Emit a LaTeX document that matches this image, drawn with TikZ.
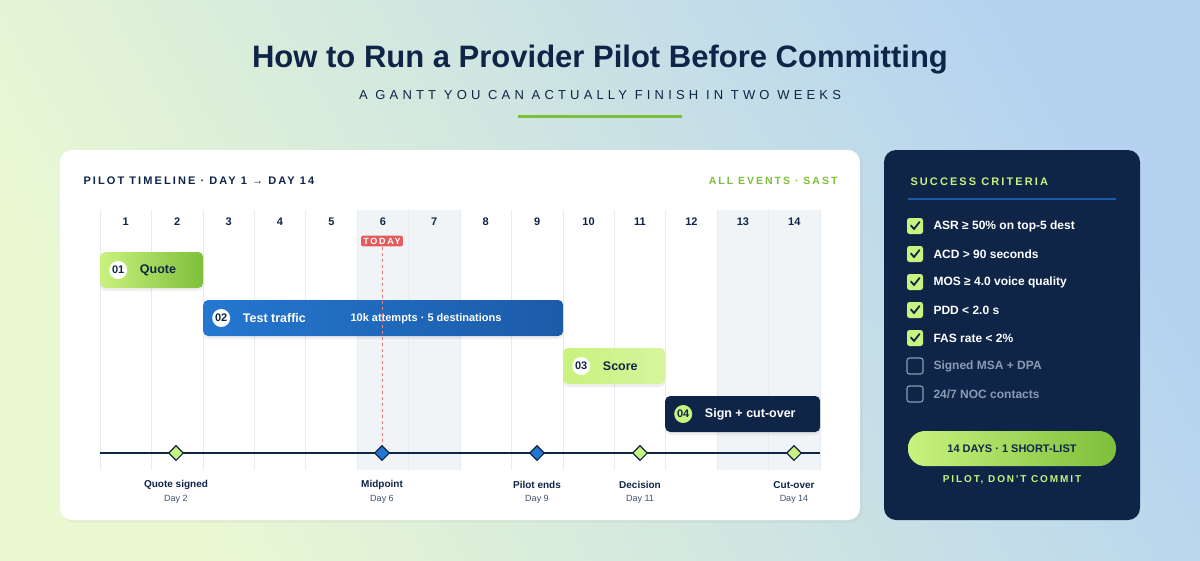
\documentclass[tikz,border=0pt]{standalone}
\usepackage{fontspec}
\setmainfont{Liberation Sans}
\newfontfamily\spaced[LetterSpace=32]{Liberation Sans}
\newfontfamily\spacedb[LetterSpace=19]{Liberation Sans}
\usetikzlibrary{positioning,shadows,shapes.geometric}
\definecolor{navy}{HTML}{0F2547}
\definecolor{lime}{HTML}{C9F27E}
\definecolor{limed}{HTML}{7DBF3A}
\definecolor{blu}{HTML}{2477D0}
\definecolor{blud}{HTML}{1C5BA8}
\definecolor{todayred}{HTML}{E45B5B}
\definecolor{gridc}{HTML}{E6EBEF}
\definecolor{shadec}{HTML}{F1F4F7}
\definecolor{muted}{HTML}{8A9AB3}
\definecolor{bgtl}{HTML}{EAF8D2}
\definecolor{bgbr}{HTML}{B5D3F0}
\newcommand{\fs}[1]{\fontsize{#1}{#1}\selectfont}
\tikzset{
  daynum/.style={font=\bfseries\fs{11}, text=navy},
  bar/.style={rounded corners=5pt, minimum height=36pt, anchor=west, inner sep=0pt, drop shadow={opacity=0.12, shadow xshift=0pt, shadow yshift=-3pt}},
  bartext/.style={font=\bfseries\fs{12.5}},
  badge/.style={circle, fill=white, minimum size=18pt, inner sep=0pt, font=\bfseries\fs{11}, text=navy},
  mile/.style={diamond, draw=navy, line width=1.1pt, minimum size=15pt, inner sep=0pt},
  milename/.style={font=\bfseries\fs{10}, text=navy},
  miledate/.style={font=\fs{9}, text=navy!80},
  crit/.style={font=\bfseries\fs{12}, text=white, anchor=west},
  box/.style={minimum size=16pt, rounded corners=2.5pt, inner sep=0pt},
}
\begin{document}
\begin{tikzpicture}[x=1pt,y=-1pt]
\useasboundingbox (0,0) rectangle (1200,560);
\shade[left color=bgtl, right color=bgbr, shading angle=120] (0,0) rectangle (1200,560);

% title
\node[font=\bfseries\fs{31}, text=navy] (title) at (600,60) {How to Run a Provider Pilot Before Committing};
\node[font=\spaced\fs{13}, text=navy] (subtitle) at (600,95) {A GANTT YOU CAN ACTUALLY FINISH IN TWO WEEKS};
\fill[limed] (518,114.5) rectangle (682,117.5);

% timeline card
\fill[white, rounded corners=12pt, drop shadow={opacity=0.08}] (60,150) rectangle (860,520);
\node[font=\spacedb\bfseries\fs{11}, text=navy, anchor=west] (cardtitle) at (80,181) {PILOT TIMELINE · DAY 1 → DAY 14};
\node[font=\spacedb\bfseries\fs{10.5}, text=limed, anchor=east] (cardtz) at (841,181) {ALL EVENTS · SAST};

\fill[shadec] (357.1,210) rectangle (460,470);
\fill[shadec] (717.1,210) rectangle (820,470);
\foreach \i in {0,...,14}
  \draw[gridc, line width=0.7pt] ({100+51.43*\i},210) -- ({100+51.43*\i},470);
\foreach \i in {1,...,14}
  \node[daynum] (d\i) at ({100+51.43*(\i-0.5)},222) {\i};

% today
\node[fill=todayred, rounded corners=2pt, text=white, font=\spacedb\bfseries\fs{9}, inner sep=2.2pt] (today) at (382,241) {TODAY};

% bars
\node[bar, minimum width=103pt, left color=lime, right color=limed] (b1) at (100,270) {};
\node[badge, right=9pt of b1.west] (n1) {01};
\node[bartext, text=navy, right=9pt of n1] (t1) {Quote};

\node[bar, minimum width=360pt, left color=blu, right color=blud] (b2) at (203,318) {};
\node[badge, right=9pt of b2.west] (n2) {02};
\node[bartext, text=white, right=9pt of n2] (t2) {Test traffic};
\node[font=\bfseries\fs{11}, text=white, anchor=west] (t2b) at (347,319) {10k attempts · 5 destinations};

\node[bar, minimum width=102pt, left color=lime, right color=lime!75] (b3) at (563,366) {};
\node[badge, right=9pt of b3.west] (n3) {03};
\node[bartext, text=navy, right=9pt of n3] (t3) {Score};

\node[bar, minimum width=155pt, fill=navy] (b4) at (665,414) {};
\node[badge, fill=lime, right=9pt of b4.west] (n4) {04};
\node[bartext, text=white, right=9pt of n4] (t4) {Sign + cut-over};

% milestones
\coordinate (axl) at (100,453);
\coordinate (axr) at (820,453);
\draw[navy, line width=1.6pt] (axl) -- (axr);
\draw[todayred!80, dashed, line width=0.8pt] (today.south) -- (382,445);
\foreach \n/\x/\c/\lab/\dd in {m2/176/lime/Quote signed/2, m6/382/blu/Midpoint/6, m9/537/blu/Pilot ends/9, m11/640/lime/Decision/11, m14/794/lime/Cut-over/14} {
  \node[mile, fill=\c] (\n) at (\x,453) {};
  \node[milename] (\n l) at (\x,485) {\lab};
  \node[miledate] (\n d) at (\x,499) {Day \dd};
}

% criteria panel
\fill[navy, rounded corners=12pt] (884,150) rectangle (1140,520);
\node[font=\spacedb\bfseries\fs{11}, text=lime, anchor=west] (crithead) at (907,182) {SUCCESS CRITERIA};
\draw[blud, line width=1.2pt] (908,199) -- (1116,199);
\foreach \y/\txt in {226/ASR ≥ 50\% on top-5 dest, 254/ACD > 90 seconds, 282/MOS ≥ 4.0 voice quality, 310/PDD < 2.0 s, 338/FAS rate < 2\%} {
  \node[box, fill=lime] (c\y) at (915,\y) {};
  \draw[navy, line width=1.8pt, line cap=round, line join=round] ([xshift=-4pt,yshift=0.5pt]c\y.center) -- ([xshift=-1pt,yshift=-3pt]c\y.center) -- ([xshift=4.5pt,yshift=4pt]c\y.center);
  \node[crit] (ct\y) at (930,\y) {\txt};
}
\foreach \y/\txt in {366/{Signed MSA + DPA}, 394/{24/7 NOC contacts}} {
  \node[box, draw=muted, line width=1.2pt] (c\y) at (915,\y) {};
  \node[crit, text=muted] (ct\y) at (930,\y) {\txt};
}
\node[left color=lime, right color=limed, rounded corners=17pt, minimum width=208pt, minimum height=35pt, font=\bfseries\fs{11}, text=navy] (pill) at (1012,448.5) {14 DAYS · 1 SHORT-LIST};
\node[font=\spacedb\bfseries\fs{10}, text=lime, below=6pt of pill] (motto) {PILOT, DON'T COMMIT};
\end{tikzpicture}
\end{document}
